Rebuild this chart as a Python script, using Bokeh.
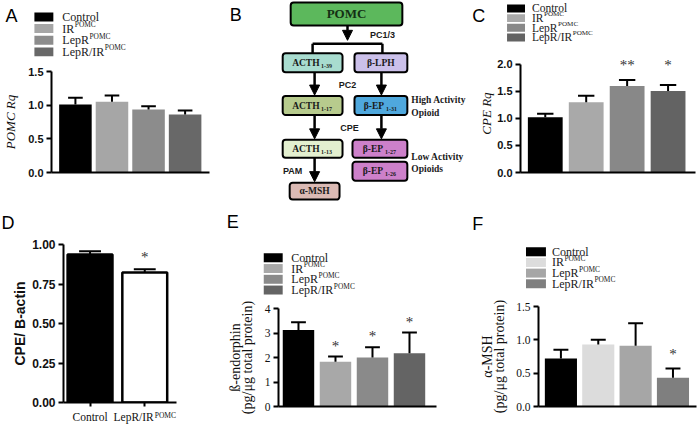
import numpy as np
from bokeh.plotting import figure
from bokeh.layouts import row, column
from bokeh.models import (Range1d, ColumnDataSource, Arrow, NormalHead, PrintfTickFormatter, Plot)
from bokeh.core.properties import value
from bokeh.embed import file_html
from bokeh.resources import INLINE

# ---------------- data ----------------
groups = ["Control", "IR", "LepR", "LepR/IR"]
group_sup = ["", "POMC", "POMC", "POMC"]

pomc_rq = [1.01, 1.05, 0.935, 0.86]
pomc_rq_hi = [1.11, 1.145, 0.985, 0.92]
pomc_ticks = [0.0, 0.5, 1.0, 1.5]

cpe_rq = [1.02, 1.30, 1.60, 1.51]
cpe_rq_hi = [1.085, 1.42, 1.71, 1.62]
cpe_rq_sig = ["", "", "**", "*"]
cpe_ticks = [0.0, 0.5, 1.0, 1.5, 2.0]

wb_groups = ["Control", "LepR/IR"]
wb_sup = ["", "POMC"]
cpe_actin = [0.937, 0.822]
cpe_actin_hi = [0.958, 0.843]
cpe_actin_sig = ["", "*"]
cpe_actin_ticks = [0.0, 0.25, 0.5, 0.75, 1.0]

bend = [3.12, 1.83, 2.00, 2.17]
bend_hi = [3.44, 2.04, 2.42, 3.02]
bend_sig = ["", "*", "*", "*"]
bend_ticks = [0, 1, 2, 3, 4]

amsh = [0.72, 0.93, 0.91, 0.43]
amsh_hi = [0.85, 1.00, 1.25, 0.57]
amsh_sig = ["", "", "", "*"]
amsh_ticks = [0.0, 0.5, 1.0, 1.5]

# diagram (panel B)
diagram_boxes = [  # main text, subscript, left, right, top, bottom, fill
    ("POMC", "", 291, 403, 2, 25, "#5cb85c"),
    ("ACTH", "1-39", 283, 343, 53, 72, "#a8dccf"),
    ("β-LPH", "", 355, 408, 53, 72, "#cbc0ea"),
    ("ACTH", "1-17", 283, 343, 96, 115, "#b7cb8d"),
    ("β-EP", "1-31", 355, 408, 96, 115, "#4fa8dd"),
    ("ACTH", "1-13", 283, 343, 140, 158, "#e3efcf"),
    ("β-EP", "1-27", 353, 408, 140, 158, "#cd80ca"),
    ("β-EP", "1-26", 353, 408, 162, 181, "#cd80ca"),
    ("α-MSH", "", 290, 340, 183, 200, "#dbbab4"),
]
diagram_arrows = [(348, 25, 40), (315, 72, 95), (382, 72, 95),
                  (315, 115, 139), (382, 115, 139), (315, 158, 182)]
diagram_lines = [((313, 383), (43.5, 43.5)), ((313, 313), (43.5, 53)), ((383, 383), (43.5, 53))]
enzyme_labels = [("PC1/3", 383, 35), ("PC2", 348, 85), ("CPE", 350, 128), ("PAM", 293, 171)]
side_labels = [("High Activity", 412, 100), ("Opioid", 412, 113),
               ("Low Activity", 412, 157), ("Opioids", 412, 169)]

# ---------------- geometry / styles ----------------
W, H = 698, 425
SX, SY = W / 700, H / 427


def X(v):
    return int(round(v * SX))


def Y(v):
    return int(round(v * SY))


ROW1_H = Y(205)
ROW2_H = H - ROW1_H
ROW2_REF = ROW1_H / SY

SERIF = "Liberation Serif"
SANS = "Liberation Sans"
colors_A = ["#000000", "#a6a6a6", "#8c8c8c", "#686868"]
colors_C = ["#000000", "#a9a9a9", "#888888", "#636363"]
colors_D = ["#000000", "#ffffff"]
colors_E = ["#000000", "#a8a8a8", "#8a8a8a", "#646464"]
colors_F = ["#000000", "#dcdcdc", "#a6a6a6", "#7f7f7f"]

NOALIGN = {"frame_align": False} if "frame_align" in Plot.properties() else {}

W_REG = {'C': .667, 'o': .5, 'n': .5, 't': .278, 'r': .333, 'l': .278, 'I': .333, 'R': .667,
         'L': .611, 'e': .444, 'p': .5, '/': .278, 'P': .556, 'O': .722, 'M': .889}
W_BOLD = {'A': .722, 'C': .722, 'T': .667, 'H': .778, 'P': .611, 'O': .778, 'M': .944,
          'β': .56, '-': .333, 'L': .667, 'E': .667, 'α': .56, 'S': .556}


def tw(s, size, table=W_REG):
    return size * sum(table.get(c, 0.5) for c in s)


def canvas(w, h, xr, yr, **kw):
    p = figure(width=w, height=h, x_range=Range1d(*xr), y_range=Range1d(*yr),
               x_axis_type=None, y_axis_type=None, output_backend="svg",
               toolbar_location=None, min_border=0, **NOALIGN, **kw)
    p.outline_line_color = None
    return p


def header(pl, pr, row_top_px, h, letter, lx, ly):
    ytop = row_top_px / SY
    p = canvas(pr - pl, h, (pl / SX, pr / SX), (ytop + h / SY, ytop))
    p.text(x=[lx], y=[ly], text=[letter], text_font=value(SANS), text_font_size="18px",
           text_baseline="top", text_align="left", text_color="black")
    return p


def legend(p, colors, sq_x0, sq_x1, top, pitch, sq_h, text_x, size):
    n = len(groups)
    tops = [top + i * pitch for i in range(n)]
    p.quad(left=sq_x0, right=sq_x1, top=tops, bottom=[t + sq_h for t in tops],
           fill_color=colors, line_color=None)
    centers = [t + sq_h / 2 for t in tops]
    p.text(x=[text_x] * n, y=centers, text=groups, text_font=value(SERIF),
           text_font_size=f"{size}px", text_baseline="middle", text_color="#1a1a1a")
    keep = [i for i in range(n) if group_sup[i]]
    p.text(x=[text_x] * len(keep), y=[centers[i] for i in keep], text=[group_sup[i] for i in keep],
           text_font=value(SERIF), text_font_size=f"{size * 0.62:.1f}px", text_baseline="middle",
           text_color="#1a1a1a", x_offset=[tw(groups[i], size) + 0.5 for i in keep], y_offset=-4)


def chart(pl, pr, row_top_px, row_h, head_h, axis_x, axis_end, frame_top, frame_bottom,
          xr, yr, yticks, fmt, tick_font, tick_style, tick_size,
          ylabel, lab_font, lab_style, lab_size, lab_standoff, lab_lh=1.0, bb=None):
    lb = X(axis_x) - pl
    rb = pr - X(axis_end)
    tb = Y(frame_top) - row_top_px - head_h
    fb = Y(frame_bottom) - row_top_px
    if bb is None:
        bb = row_h - fb
    h = fb - head_h + bb
    p = figure(width=pr - pl, height=h, x_range=Range1d(*xr), y_range=Range1d(*yr),
               output_backend="svg", toolbar_location=None,
               min_border_left=lb, min_border_right=rb, min_border_top=tb, min_border_bottom=bb,
               **NOALIGN)
    p.grid.visible = False
    p.outline_line_color = None
    xa = p.xaxis[0]
    ya = p.yaxis[0]
    xa.ticker = []
    xa.axis_label = None
    xa.major_label_standoff = 0
    xa.major_tick_line_color = None
    xa.minor_tick_line_color = None
    xa.axis_line_width = 2
    ya.ticker = yticks
    ya.formatter = PrintfTickFormatter(format=fmt)
    ya.minor_tick_line_color = None
    ya.major_tick_in = 0
    ya.major_tick_out = 5
    ya.major_tick_line_width = 2
    ya.axis_line_width = 2
    ya.major_label_text_font = tick_font
    ya.major_label_text_font_style = tick_style
    ya.major_label_text_font_size = f"{tick_size}px"
    ya.major_label_text_color = "#111111"
    ya.major_label_standoff = 3
    ya.axis_label = ylabel
    ya.axis_label_text_font = lab_font
    ya.axis_label_text_font_style = lab_style
    ya.axis_label_text_font_size = f"{lab_size}px"
    ya.axis_label_text_line_height = lab_lh
    ya.axis_label_standoff = lab_standoff
    ya.axis_label_text_color = "#111111"
    return p, lb, rb, h


def bars(p, vals, his, colors, width, cap, sig=None, sig_y=None, sig_off=0,
         line_color=None, line_width=1):
    idx = list(range(len(vals)))
    src = ColumnDataSource(dict(x=idx, top=vals, hi=his, color=colors,
                                x0=[i - cap for i in idx], x1=[i + cap for i in idx]))
    p.vbar(x="x", top="top", bottom=0, width=width, fill_color="color",
           line_color=line_color, line_width=line_width, source=src)
    p.segment(x0="x", y0="top", x1="x", y1="hi", line_color="black", line_width=2, source=src)
    p.segment(x0="x0", y0="hi", x1="x1", y1="hi", line_color="black", line_width=2, source=src)
    if sig is not None:
        keep = [i for i in idx if sig[i]]
        p.text(x=keep, y=[sig_y[i] for i in keep], text=[sig[i] for i in keep],
               text_font=value(SERIF), text_font_size="15px", text_align="center",
               text_baseline="middle", y_offset=-sig_off, text_color="#333333")


# ---------------- panel A ----------------
A_L, A_R = 0, X(228)
hA = Y(62)
headA = header(A_L, A_R, 0, hA, "A", 5, 6)
legend(headA, colors_A, 34, 53, 12, 11.7, 9, 62, 12)
chartA = chart(A_L, A_R, 0, ROW1_H, hA, 45, 210, 71, 173, (-0.654, 3.667), (0, 1.5),
               pomc_ticks, "%.1f", SANS, "bold", 11, "POMC Rq", SERIF, "italic", 13, 7)[0]
bars(chartA, pomc_rq, pomc_rq_hi, colors_A, 0.89, 0.2)

# ---------------- panel B ----------------
B_L, B_R = X(228), X(470)
pB = canvas(B_R - B_L, ROW1_H, (B_L / SX, B_R / SX), (ROW1_H / SY, 0))
pB.text(x=[230], y=[5], text=["B"], text_font=value(SANS), text_font_size="18px",
        text_baseline="top", text_color="black")
pB.multi_line(xs=[l[0] for l in diagram_lines], ys=[l[1] for l in diagram_lines],
              line_color="black", line_width=2.5)
pB.add_layout(Arrow(end=NormalHead(size=10, fill_color="black", line_color="black", line_width=1),
                    x_start="x", y_start="y0", x_end="x", y_end="y1",
                    line_width=2.5, line_color="black",
                    source=ColumnDataSource(dict(x=[a[0] for a in diagram_arrows],
                                                 y0=[a[1] for a in diagram_arrows],
                                                 y1=[a[2] for a in diagram_arrows]))))
pB.quad(left=[b[2] for b in diagram_boxes], right=[b[3] for b in diagram_boxes],
        top=[b[4] for b in diagram_boxes], bottom=[b[5] for b in diagram_boxes],
        fill_color=[b[6] for b in diagram_boxes], line_color="black", line_width=2,
        border_radius=3)
for main, sub, l, r, t, b, c in diagram_boxes:
    size = 13 if main == "POMC" else 9.5
    mw = tw(main, size, W_BOLD)
    sw = tw(sub, 6) if sub else 0
    tot = mw + (sw + 1.5 if sub else 0)
    cx, cy = (l + r) / 2, (t + b) / 2
    pB.text(x=[cx], y=[cy], text=[main], text_font=value(SERIF), text_font_style="bold",
            text_font_size=f"{size}px", text_baseline="middle", text_align="left",
            x_offset=-tot / 2, text_color="#143014" if main == "POMC" else "#1a1a1a")
    if sub:
        pB.text(x=[cx], y=[cy], text=[sub], text_font=value(SERIF), text_font_style="bold",
                text_font_size="6px", text_baseline="middle", text_align="left",
                x_offset=-tot / 2 + mw + 1.5, y_offset=3, text_color="#1a1a1a")
pB.text(x=[e[1] for e in enzyme_labels], y=[e[2] for e in enzyme_labels],
        text=[e[0] for e in enzyme_labels], text_font=value(SANS), text_font_style="bold",
        text_font_size="9px", text_align="center", text_baseline="middle", text_color="#1a1a1a")
pB.text(x=[s[1] for s in side_labels], y=[s[2] for s in side_labels],
        text=[s[0] for s in side_labels], text_font=value(SERIF), text_font_style="bold",
        text_font_size="9.5px", text_align="left", text_baseline="middle", text_color="#1a1a1a")

# ---------------- panel C ----------------
C_L, C_R = X(470), W
hC = Y(52)
C_FT, C_Y2, C_FB = 54, 64, 173.3
headC = header(C_L, C_R, 0, hC, "C", 473, 6)
legend(headC, colors_C, 508, 526, 4, 9.7, 8, 533, 11.5)
chartC = chart(C_L, C_R, 0, ROW1_H, hC, 521.7, 697, C_FT, C_FB, (-0.605, 3.67),
               (0, 2.0 * (C_FB - C_FT) / (C_FB - C_Y2)), cpe_ticks, "%.1f",
               SANS, "bold", 11, "CPE Rq", SERIF, "italic", 13, 0)[0]
chartC.yaxis[0].bounds = (0, 2)
bars(chartC, cpe_rq, cpe_rq_hi, colors_C, 0.85, 0.2, cpe_rq_sig,
     [max(cpe_rq_hi)] * len(cpe_rq), 15)

# ---------------- panel D ----------------
D_L, D_R = 0, X(215)
hD = Y(235) - ROW1_H
headD = header(D_L, D_R, ROW1_H, hD, "D", 1, ROW2_REF + 9)
chartD, lbD, rbD, chD = chart(D_L, D_R, ROW1_H, ROW2_H, hD, 63.3, 177, 245, 404, (-0.485, 1.58),
                              (0, 1.0), cpe_actin_ticks, "%.2f", SANS, "bold", 12,
                              "CPE/ B-actin", SANS, "bold", 14, 1, bb=8)
xd = chartD.xaxis[0]
xd.ticker = list(range(len(wb_groups)))
xd.major_label_overrides = {i: "" for i in range(len(wb_groups))}
xd.major_label_text_font_size = "1px"
xd.major_tick_line_color = "black"
xd.major_tick_line_width = 2
xd.major_tick_out = 4
xd.major_tick_in = 0
bars(chartD, cpe_actin, cpe_actin_hi, colors_D, 0.82, 0.2, cpe_actin_sig, cpe_actin_hi, 12,
     line_color="black", line_width=2.5)
footD_h = ROW2_H - hD - chD
footD = figure(width=D_R - D_L, height=footD_h, x_range=chartD.x_range, y_range=Range1d(0, 1),
               x_axis_type=None, y_axis_type=None, output_backend="svg", toolbar_location=None,
               min_border_left=lbD, min_border_right=rbD, min_border_top=0, min_border_bottom=0,
               **NOALIGN)
footD.outline_line_color = None
main_w = [tw(g, 11.5) for g in wb_groups]
sup_w = [tw(s, 7.5) + 1 if s else 0 for s in wb_sup]
tot_w = [m + s for m, s in zip(main_w, sup_w)]
footD.text(x=list(range(len(wb_groups))), y=[1] * len(wb_groups), text=wb_groups,
           text_font=value(SERIF), text_font_size="11.5px", text_baseline="top", text_align="left",
           x_offset=[-t / 2 for t in tot_w], text_color="#111111")
ks = [i for i in range(len(wb_sup)) if wb_sup[i]]
footD.text(x=ks, y=[1] * len(ks), text=[wb_sup[i] for i in ks],
           text_font=value(SERIF), text_font_size="7.5px", text_baseline="top", text_align="left",
           x_offset=[-tot_w[i] / 2 + main_w[i] + 1 for i in ks], text_color="#111111")

# ---------------- panel E ----------------
E_L, E_R = X(215), X(460)
hE = Y(300) - ROW1_H
headE = header(E_L, E_R, ROW1_H, hE, "E", 227, ROW2_REF + 8)
legend(headE, colors_E, 264, 283, 254, 10.8, 9, 291.7, 12)
chartE = chart(E_L, E_R, ROW1_H, ROW2_H, hE, 278.3, 437, 309, 408.3, (-0.54, 3.73), (0, 4),
               bend_ticks, "%d", SERIF, "normal", 11.5,
               "ß-endorphin\n(pg/μg total protein)", SERIF, "normal", 14, 7, 0.8)[0]
bars(chartE, bend, bend_hi, colors_E, 0.85, 0.2, bend_sig, bend_hi, 11)

# ---------------- panel F ----------------
F_L, F_R = X(460), W
hF = Y(298) - ROW1_H
headF = header(F_L, F_R, ROW1_H, hF, "F", 473, ROW2_REF + 10)
legend(headF, colors_F, 527, 547, 248, 10.7, 9, 553, 12)
chartF = chart(F_L, F_R, ROW1_H, ROW2_H, hF, 540, 698, 307.3, 408.3, (-0.6, 3.63), (0, 1.5),
               amsh_ticks, "%.1f", SERIF, "normal", 11.5,
               "α-MSH\n(pg/μg total protein)", SERIF, "normal", 14, 6, 0.8)[0]
bars(chartF, amsh, amsh_hi, colors_F, 0.86, 0.2, amsh_sig, amsh_hi, 15)

layout = column(
    row(column(headA, chartA), pB, column(headC, chartC)),
    row(column(headD, chartD, footD), column(headE, chartE), column(headF, chartF)),
)

open("out.html", "w").write(file_html(layout, INLINE))
